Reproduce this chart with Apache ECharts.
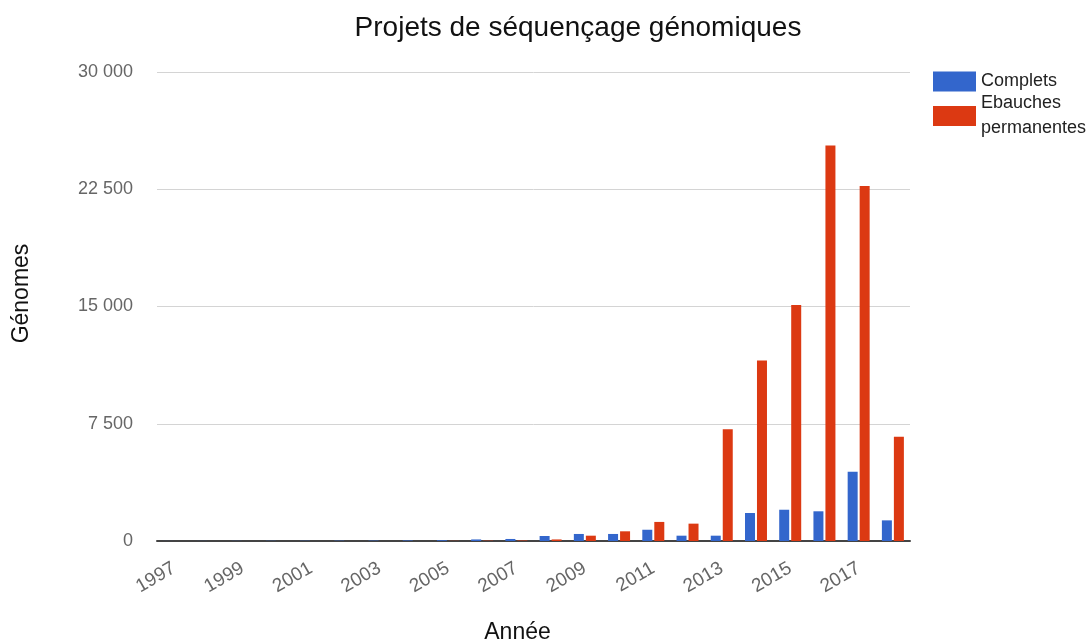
<!DOCTYPE html>
<html>
<head>
<meta charset="utf-8">
<script src="https://cdn.jsdelivr.net/npm/echarts@6/dist/echarts.min.js"></script>
<style>
  html, body { margin: 0; padding: 0; background: #fff; }
  #chart { width: 1091px; height: 643px; }
</style>
</head>
<body>
<div id="chart"></div>
<script>
// Années et nombre de génomes séquencés
const years = ['1997','1998','1999','2000','2001','2002','2003','2004','2005','2006','2007',
               '2008','2009','2010','2011','2012','2013','2014','2015','2016','2017','2018'];
const complets = [3, 5, 8, 12, 15, 20, 25, 35, 50, 100, 130,
                  320, 450, 450, 720, 340, 340, 1790, 2000, 1900, 4430, 1320];
const ebauches = [0, 0, 0, 0, 0, 0, 0, 0, 10, 20, 30,
                  100, 340, 620, 1220, 1110, 7150, 11550, 15100, 25300, 22700, 6670];
const yTicks = [0, 7500, 15000, 22500, 30000];

const fmt = v => String(v).replace(/\B(?=(\d{3})+(?!\d))/g, ' ');
const FONT = 'Liberation Sans, Arial, sans-serif';

const chart = echarts.init(document.getElementById('chart'));
chart.setOption({
  animation: false,
  textStyle: { fontFamily: FONT },
  title: {
    text: 'Projets de séquençage génomiques',
    left: 573,
    textAlign: 'center',
    top: 9,
    textStyle: { fontFamily: FONT, fontSize: 28, fontWeight: 'normal', color: '#111' }
  },
  legend: {
    orient: 'vertical',
    left: 928,
    top: 64,
    itemWidth: 43,
    itemHeight: 20,
    itemGap: -3,
    icon: 'rect',
    data: ['Complets', 'Ebauches permanentes'],
    formatter: n => n.replace(' ', '\n'),
    textStyle: { fontFamily: FONT, fontSize: 18, color: '#222', lineHeight: 25 }
  },
  grid: { left: 157, right: 181, top: 72, bottom: 102, outerBoundsMode: 'none' },
  xAxis: {
    type: 'category',
    data: years,
    name: 'Année',
    nameLocation: 'middle',
    nameGap: 80,
    nameTextStyle: { fontFamily: FONT, fontSize: 23, color: '#111', padding: [0, 32, 0, 0] },
    axisLine: { lineStyle: { color: '#444', width: 2 } },
    axisTick: { show: false },
    axisLabel: {
      interval: 1,
      rotate: 30,
      fontFamily: FONT,
      fontSize: 19,
      color: '#666',
      margin: 26
    }
  },
  yAxis: {
    type: 'value',
    name: 'Génomes',
    nameLocation: 'middle',
    nameGap: 124,
    nameTextStyle: { fontFamily: FONT, fontSize: 23, color: '#111', padding: [0, 0, 0, 26] },
    min: yTicks[0],
    max: yTicks[yTicks.length - 1],
    interval: yTicks[1] - yTicks[0],
    axisLine: { show: false },
    axisTick: { show: false },
    splitLine: { lineStyle: { color: '#d4d4d4', width: 1 } },
    axisLabel: {
      fontFamily: FONT,
      fontSize: 18,
      color: '#666',
      margin: 24,
      formatter: v => fmt(v)
    }
  },
  series: [
    {
      name: 'Complets',
      type: 'bar',
      data: complets,
      barWidth: 10,
      barGap: '20%',
      itemStyle: { color: '#3366cc' }
    },
    {
      name: 'Ebauches permanentes',
      type: 'bar',
      data: ebauches,
      barWidth: 10,
      barGap: '20%',
      itemStyle: { color: '#dc3912' }
    }
  ]
});
</script>
</body>
</html>
